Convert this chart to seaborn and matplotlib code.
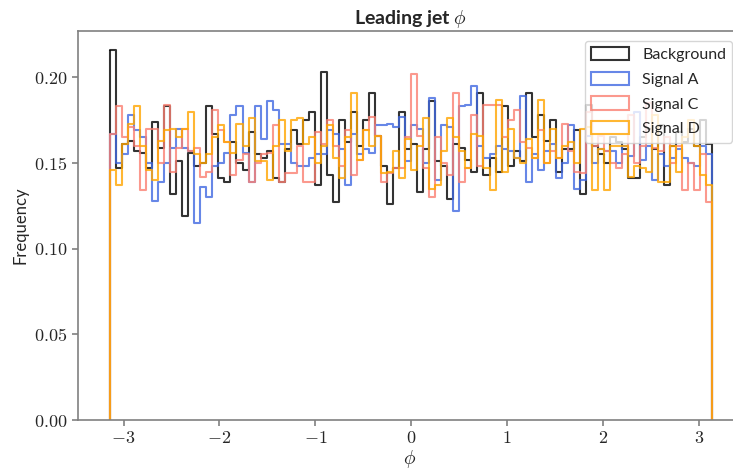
import numpy as np
import pandas as pd
import matplotlib
matplotlib.use("Agg")
import matplotlib.pyplot as plt
from matplotlib.ticker import FuncFormatter
from matplotlib.patches import Patch
import seaborn as sns

# ==========================
# data: density per bin (100 bins over -pi..pi)
# ==========================
n_bins = 100
background = [
    0.216, 0.147, 0.161, 0.163, 0.157, 0.156, 0.147, 0.174, 0.159, 0.183,
    0.132, 0.151, 0.119, 0.156, 0.148, 0.150, 0.183, 0.167, 0.141, 0.139,
    0.162, 0.150, 0.146, 0.168, 0.155, 0.153, 0.157, 0.141, 0.139, 0.158,
    0.169, 0.161, 0.175, 0.180, 0.137, 0.203, 0.143, 0.127, 0.175, 0.162,
    0.180, 0.160, 0.175, 0.191, 0.166, 0.148, 0.126, 0.147, 0.180, 0.158,
    0.161, 0.133, 0.158, 0.186, 0.151, 0.148, 0.129, 0.161, 0.159, 0.152,
    0.145, 0.191, 0.143, 0.153, 0.145, 0.183, 0.148, 0.157, 0.151, 0.191,
    0.165, 0.178, 0.163, 0.175, 0.145, 0.158, 0.158, 0.169, 0.132, 0.184,
    0.160, 0.155, 0.150, 0.165, 0.162, 0.158, 0.141, 0.141, 0.165, 0.170,
    0.158, 0.172, 0.137, 0.160, 0.168, 0.162, 0.170, 0.160, 0.175, 0.161,
]
signal_a = [
    0.167, 0.150, 0.155, 0.178, 0.169, 0.165, 0.150, 0.128, 0.139, 0.150,
    0.159, 0.170, 0.159, 0.157, 0.115, 0.136, 0.130, 0.148, 0.150, 0.156,
    0.178, 0.183, 0.156, 0.139, 0.183, 0.164, 0.186, 0.181, 0.161, 0.161,
    0.150, 0.148, 0.148, 0.153, 0.155, 0.155, 0.169, 0.167, 0.158, 0.137,
    0.167, 0.155, 0.158, 0.156, 0.172, 0.172, 0.173, 0.171, 0.177, 0.151,
    0.172, 0.170, 0.150, 0.188, 0.140, 0.172, 0.171, 0.122, 0.183, 0.184,
    0.195, 0.160, 0.153, 0.155, 0.160, 0.158, 0.157, 0.153, 0.189, 0.139,
    0.155, 0.146, 0.157, 0.161, 0.141, 0.150, 0.172, 0.135, 0.140, 0.166,
    0.150, 0.158, 0.157, 0.157, 0.150, 0.160, 0.154, 0.180, 0.152, 0.160,
    0.140, 0.155, 0.148, 0.153, 0.158, 0.153, 0.150, 0.148, 0.160, 0.155,
]
signal_c = [
    0.167, 0.183, 0.165, 0.171, 0.160, 0.134, 0.170, 0.170, 0.150, 0.184,
    0.145, 0.159, 0.170, 0.157, 0.159, 0.142, 0.145, 0.181, 0.169, 0.162,
    0.143, 0.152, 0.155, 0.139, 0.150, 0.155, 0.156, 0.172, 0.139, 0.144,
    0.144, 0.160, 0.139, 0.139, 0.168, 0.161, 0.175, 0.160, 0.148, 0.169,
    0.143, 0.152, 0.169, 0.177, 0.166, 0.139, 0.144, 0.147, 0.147, 0.165,
    0.202, 0.166, 0.147, 0.130, 0.165, 0.150, 0.143, 0.191, 0.139, 0.147,
    0.178, 0.148, 0.184, 0.184, 0.184, 0.165, 0.175, 0.181, 0.162, 0.159,
    0.153, 0.169, 0.150, 0.157, 0.153, 0.173, 0.157, 0.145, 0.144, 0.180,
    0.160, 0.166, 0.157, 0.150, 0.147, 0.155, 0.178, 0.150, 0.160, 0.185,
    0.159, 0.157, 0.165, 0.150, 0.160, 0.134, 0.150, 0.134, 0.155, 0.127,
]
signal_d = [
    0.146, 0.137, 0.161, 0.173, 0.183, 0.160, 0.146, 0.140, 0.163, 0.169,
    0.170, 0.165, 0.170, 0.180, 0.155, 0.150, 0.155, 0.165, 0.172, 0.162,
    0.156, 0.173, 0.160, 0.176, 0.151, 0.151, 0.140, 0.160, 0.175, 0.157,
    0.175, 0.176, 0.161, 0.165, 0.150, 0.160, 0.172, 0.153, 0.141, 0.165,
    0.191, 0.152, 0.169, 0.160, 0.166, 0.144, 0.145, 0.157, 0.141, 0.164,
    0.146, 0.160, 0.176, 0.135, 0.137, 0.157, 0.176, 0.165, 0.157, 0.147,
    0.167, 0.166, 0.147, 0.134, 0.187, 0.145, 0.170, 0.153, 0.150, 0.164,
    0.153, 0.187, 0.150, 0.170, 0.153, 0.160, 0.162, 0.150, 0.170, 0.171,
    0.134, 0.158, 0.134, 0.160, 0.160, 0.160, 0.142, 0.148, 0.147, 0.145,
    0.178, 0.139, 0.139, 0.160, 0.145, 0.165, 0.175, 0.160, 0.143, 0.137,
]

series = {
    "Background": (background, "black"),
    "Signal A": (signal_a, "royalblue"),
    "Signal C": (signal_c, "salmon"),
    "Signal D": (signal_d, "orange"),
}

edges = np.linspace(-np.pi, np.pi, n_bins + 1)
centers = 0.5 * (edges[:-1] + edges[1:])

# ==========================
# style
# ==========================
sns.set_style("white")
plt.rcParams["font.family"] = ["Lato", "DejaVu Sans"]
plt.rcParams["mathtext.fontset"] = "cm"

fig = plt.figure(figsize=(7.33, 4.69), dpi=100)
ax = fig.add_axes([78 / 733, 49 / 469, 664 / 733, 389 / 469])

handles = []
for name, (vals, col) in series.items():
    df = pd.DataFrame({"phi": centers, "w": vals})
    sns.histplot(data=df, x="phi", weights="w", bins=n_bins,
                 binrange=(-np.pi, np.pi), element="step", fill=False,
                 color=col, alpha=0.8, linewidth=1.5, ax=ax)
    # close the outline at both ends like a step hist
    ax.vlines([edges[0], edges[-1]], 0, [vals[0], vals[-1]], color=col,
              alpha=0.8, linewidth=1.5)
    handles.append(Patch(facecolor="none", edgecolor=col, alpha=0.8,
                         linewidth=1.5, label=name))

ax.set_title(r"Leading jet $\phi$", fontsize=14, fontweight="bold", pad=5)
ax.set_xlabel(r"$\phi$", fontsize=14, labelpad=1)
ax.set_ylabel("Frequency", fontsize=12)
ax.xaxis.set_major_formatter(FuncFormatter(lambda v, p: f"${v:g}$"))
ax.yaxis.set_major_formatter(FuncFormatter(lambda v, p: f"${v:.2f}$"))
ax.tick_params(labelsize=13, color="0.5", length=4, width=1.2, bottom=True, left=True)
for s in ax.spines.values():
    s.set_color("0.5")
    s.set_linewidth(1.2)
ax.set_xlim(-3.475, 3.45)
ax.set_ylim(0, 0.227)

ax.legend(handles=handles, loc="upper right", fontsize=11.5, framealpha=0.8,
          handlelength=2.4, handleheight=0.9, labelspacing=0.6,
          borderaxespad=0.6)

plt.savefig("out.png", dpi=100)
